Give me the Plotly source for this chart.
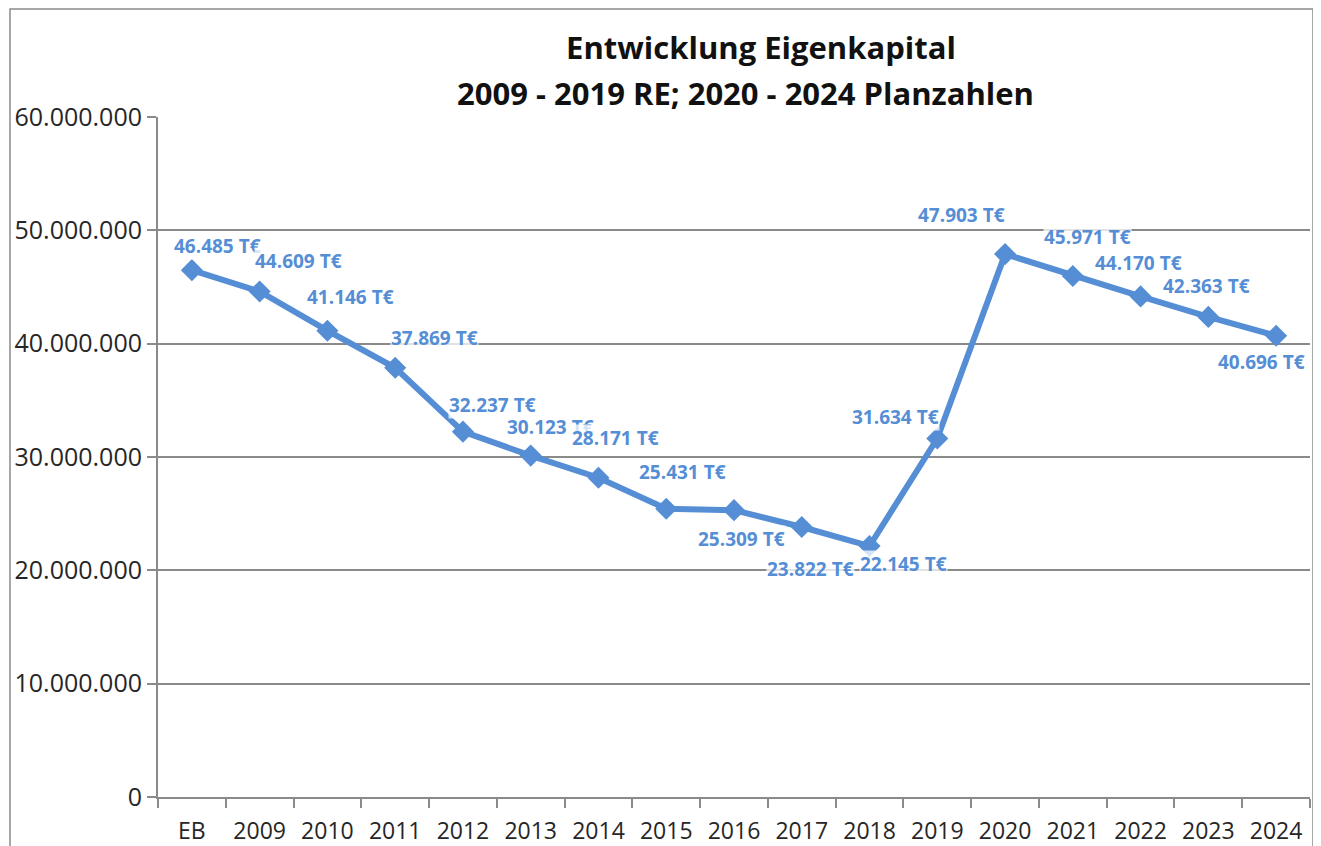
import plotly.graph_objects as go

categories = ["EB", "2009", "2010", "2011", "2012", "2013", "2014", "2015", "2016",
              "2017", "2018", "2019", "2020", "2021", "2022", "2023", "2024"]
values_teur = [46485, 44609, 41146, 37869, 32237, 30123, 28171, 25431, 25309,
               23822, 22145, 31634, 47903, 45971, 44170, 42363, 40696]
label_texts = ["46.485 T€", "44.609 T€", "41.146 T€", "37.869 T€", "32.237 T€", "30.123 T€",
               "28.171 T€", "25.431 T€", "25.309 T€", "23.822 T€", "22.145 T€", "31.634 T€",
               "47.903 T€", "45.971 T€", "44.170 T€", "42.363 T€", "40.696 T€"]
y_ticks = [0, 10000000, 20000000, 30000000, 40000000, 50000000, 60000000]
title_line1 = "Entwicklung Eigenkapital"
title_line2 = "2009 - 2019 RE; 2020 - 2024 Planzahlen"

# label offsets in pixels (style)
label_dx = [26, 39, 23, 39, 30, 20, 17, 16, 7, 9, 34, -42, -44, 15, -2, -2, -15]
label_dy = [-24, -30, -34, -30, -27, -29, -40, -37, 29, 42, 18, -21, -39, -39, -33, -31, 26]

blue = "#558ED5"
FONT = "Open Sans, Liberation Sans, sans-serif"
values_eur = [v * 1000 for v in values_teur]

fig = go.Figure()
fig.add_trace(go.Scatter(
    x=categories, y=values_eur, mode="lines+markers",
    line=dict(color=blue, width=6),
    marker=dict(symbol="diamond", size=17, color=blue),
    hoverinfo="skip", showlegend=False,
))

for i, (v, t, dx, dy) in enumerate(zip(values_eur, label_texts, label_dx, label_dy)):
    fig.add_annotation(x=i, y=v, text="<b>" + t + "</b>", showarrow=False,
                       xshift=dx, yshift=-dy,
                       font=dict(family=FONT, size=19, color=blue),
                       bgcolor="rgba(255,255,255,0.75)", borderpad=0)

# the page body has an 8px margin, so the figure starts at (8, 8)
W, H = 1313, 838
left, right, top, bottom = 150, 11, 109, 49
pw = W - left - right
ph = H - top - bottom

fig.add_shape(type="rect", xref="paper", yref="paper",
              x0=(2 - left) / pw, x1=(1305 - left) / pw,
              y0=-0.2, y1=(H - bottom - 1) / ph,
              line=dict(color="#8a8a8a", width=1.5), fillcolor="rgba(0,0,0,0)", layer="below")

# second title line
fig.add_annotation(xref="paper", yref="paper",
                   x=(737 - left) / pw, y=(H - bottom - 85) / ph,
                   xanchor="center", yanchor="middle", showarrow=False,
                   text="<b>" + title_line2 + "</b>",
                   font=dict(family=FONT, size=31, color="#111111"))

fig.update_layout(
    width=W, height=H,
    margin=dict(l=left, r=right, t=top, b=bottom, autoexpand=False),
    paper_bgcolor="white", plot_bgcolor="white",
    separators=",.",
    title=dict(text="<b>" + title_line1 + "</b>",
               x=753 / W, xanchor="center", y=1 - 40 / H, yanchor="middle",
               font=dict(family=FONT, size=31, color="#111111")),
    font=dict(family=FONT, size=23, color="#262626"),
    xaxis=dict(type="category", range=[-0.5, len(categories) - 0.5], autorange=False,
               automargin=False,
               showgrid=False, showline=True, linecolor="#8a8a8a", linewidth=2,
               ticks="outside", tickson="boundaries", ticklen=9, tickcolor="#8a8a8a", tickwidth=2,
               tickfont=dict(size=23), tickangle=0, ticklabelstandoff=12, fixedrange=True),
    yaxis=dict(range=[0, 60000000], autorange=False, automargin=False,
               tickvals=y_ticks, tickformat=",d",
               showgrid=True, gridcolor="#8a8a8a", gridwidth=2,
               showline=True, linecolor="#8a8a8a", linewidth=2,
               ticks="outside", ticklen=9, tickcolor="#8a8a8a", tickwidth=2,
               zeroline=False, tickfont=dict(size=25)),
)

fig.write_html("out.html")
